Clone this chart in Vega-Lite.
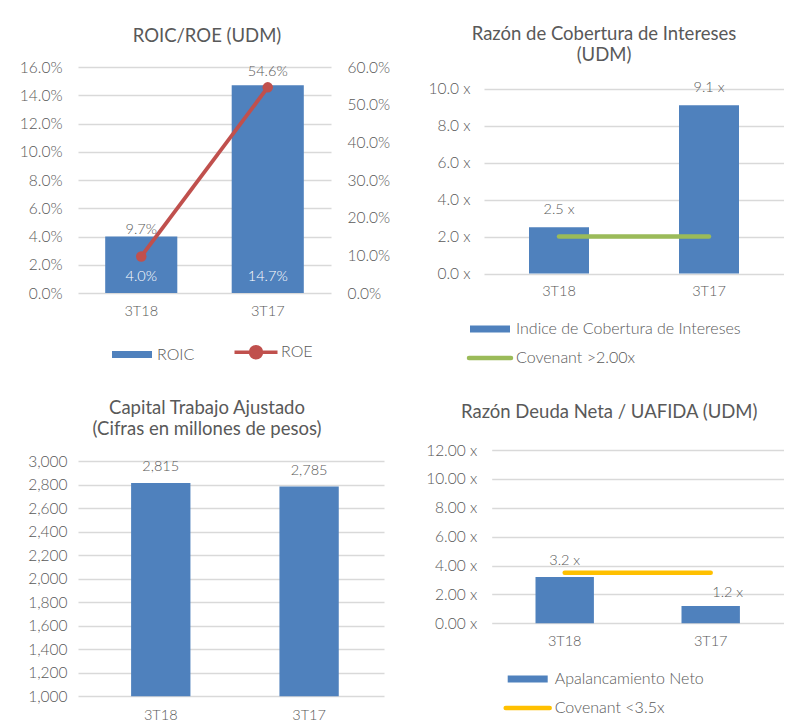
{
  "$schema": "https://vega.github.io/schema/vega-lite/v6.json",
  "background": "white",
  "padding": {"left": 19, "top": 25, "right": 0, "bottom": 0},
  "config": {
    "font": "Lato",
    "view": {"stroke": null},
    "locale": {"number": {"decimal": ".", "thousands": ",", "grouping": [3], "currency": ["", " x"]}},
    "axis": {"labelFont": "Lato", "labelFontSize": 15.5, "labelFontWeight": 300, "labelColor": "#595959", "domain": false, "ticks": false, "gridColor": "#D9D9D9", "gridWidth": 1.5, "tickCount": 30, "labelOverlap": false},
    "axisX": {"grid": false, "labelAngle": 0, "labelPadding": 11, "labelFontSize": 14.5},
    "axisY": {"grid": true},
    "legend": {"labelFont": "Lato", "labelFontSize": 16, "labelFontWeight": 300, "labelColor": "#595959", "padding": 0, "labelLimit": 500},
    "text": {"font": "Lato", "fontSize": 14.5, "fontWeight": 300, "color": "#595959"},
    "title": {"font": "Lato", "fontSize": 18.5, "fontWeight": "normal", "color": "#595959", "lineHeight": 20.5}
  },
  "datasets": {
    "roic": [
      {"periodo": "3T18", "roic": 0.040, "roe": 0.097},
      {"periodo": "3T17", "roic": 0.147, "roe": 0.546}
    ],
    "cobertura": [
      {"periodo": "3T18", "indice": 2.5, "covenant": 2.0},
      {"periodo": "3T17", "indice": 9.1, "covenant": 2.0}
    ],
    "capital": [
      {"periodo": "3T18", "capital": 2815},
      {"periodo": "3T17", "capital": 2785}
    ],
    "deuda": [
      {"periodo": "3T18", "apalancamiento": 3.2, "covenant": 3.5},
      {"periodo": "3T17", "apalancamiento": 1.2, "covenant": 3.5}
    ]
  },
  "bounds": "flush",
  "spacing": 383,
  "resolve": {"scale": {"color": "independent"}, "legend": {"color": "independent"}},
  "vconcat": [
    {
      "bounds": "flush",
      "spacing": 153,
      "resolve": {"scale": {"color": "independent"}, "legend": {"color": "independent"}},
      "hconcat": [
        {
          "title": {"text": "ROIC/ROE (UDM)", "offset": 15, "dx": 2.5},
          "width": 253,
          "height": 226,
          "data": {"name": "roic"},
          "encoding": {
            "x": {"field": "periodo", "type": "nominal", "sort": null, "scale": {"paddingInner": 0.43, "paddingOuter": 0.215}, "axis": {"title": null}}
          },
          "layer": [
            {
              "layer": [
                {
                  "mark": {"type": "bar"},
                  "encoding": {
                    "y": {"field": "roic", "type": "quantitative", "scale": {"domain": [0, 0.16], "nice": false}, "axis": {"title": null, "format": ".1%", "values": [0, 0.02, 0.04, 0.06, 0.08, 0.1, 0.12, 0.14, 0.16], "labelPadding": 16}},
                    "color": {
                      "datum": "ROIC", "type": "nominal",
                      "scale": {"domain": ["ROIC", "ROE"], "range": ["#4F81BD", "#C0504D"]},
                      "legend": {
                        "title": null, "orient": "none", "legendX": 46, "legendY": 277, "direction": "horizontal",
                        "symbolSize": 400, "labelOffset": 17, "columnPadding": 32,
                        "encode": {"symbols": {"update": {
                          "shape": {"signal": "datum.value === 'ROIC' ? 'M-2,-0.35H2V0.35H-2Z' : 'M-2.15,0H2.15M0.55,0A0.55,0.55 0 1 1 -0.55,0A0.55,0.55 0 1 1 0.55,0'"},
                          "fill": {"signal": "datum.value === 'ROIC' ? '#4F81BD' : '#C0504D'"},
                          "stroke": {"signal": "datum.value === 'ROIC' ? '#4F81BD' : '#C0504D'"},
                          "strokeWidth": {"signal": "datum.value === 'ROIC' ? 0 : 3.5"},
                          "opacity": {"value": 1}, "fillOpacity": {"value": 1}, "strokeOpacity": {"value": 1}
                        }}}
                      }
                    }
                  }
                },
                {
                  "mark": {"type": "text", "dy": -16, "color": "white"},
                  "encoding": {
                    "y": {"datum": 0, "type": "quantitative"},
                    "text": {"field": "roic", "type": "quantitative", "format": ".1%"}
                  }
                }
              ]
            },
            {
              "layer": [
                {
                  "mark": {"type": "line", "strokeWidth": 3.8},
                  "encoding": {
                    "y": {"field": "roe", "type": "quantitative", "scale": {"domain": [0, 0.6], "nice": false}, "axis": {"title": null, "orient": "right", "grid": false, "format": ".1%", "values": [0, 0.1, 0.2, 0.3, 0.4, 0.5, 0.6], "labelPadding": 16}},
                    "color": {"datum": "ROE", "type": "nominal"}
                  }
                },
                {
                  "mark": {"type": "point", "filled": true, "size": 110, "opacity": 1},
                  "encoding": {
                    "y": {"field": "roe", "type": "quantitative"},
                    "color": {"datum": "ROE", "type": "nominal"}
                  }
                },
                {
                  "transform": [{"filter": "datum.periodo === '3T18'"}],
                  "mark": {"type": "text", "dy": -26},
                  "encoding": {
                    "y": {"field": "roe", "type": "quantitative"},
                    "text": {"field": "roe", "type": "quantitative", "format": ".1%"}
                  }
                },
                {
                  "transform": [{"filter": "datum.periodo === '3T17'"}],
                  "mark": {"type": "text", "dy": -15},
                  "encoding": {
                    "y": {"field": "roe", "type": "quantitative"},
                    "text": {"field": "roe", "type": "quantitative", "format": ".1%"}
                  }
                }
              ]
            }
          ],
          "resolve": {"scale": {"y": "independent"}}
        },
        {
          "title": {"text": ["Razón de Cobertura de Intereses", "(UDM)"], "offset": 3, "dx": -30},
          "width": 300,
          "height": 206.6,
          "data": {"name": "cobertura"},
          "encoding": {
            "x": {"field": "periodo", "type": "nominal", "sort": null, "scale": {"paddingInner": 0.6, "paddingOuter": 0.3}, "axis": {"title": null}}
          },
          "layer": [
            {
              "mark": {"type": "bar"},
              "encoding": {
                "y": {"field": "indice", "type": "quantitative", "scale": {"domain": [0, 11.17], "nice": false}, "axis": {"title": null, "format": "$.1f", "values": [0, 2, 4, 6, 8, 10], "labelPadding": 14}},
                "color": {
                  "datum": "Indice de Cobertura de Intereses", "type": "nominal",
                  "scale": {"domain": ["Indice de Cobertura de Intereses", "Covenant >2.00x"], "range": ["#4F81BD", "#9BBB59"]},
                  "legend": {
                    "title": null, "orient": "none", "legendX": -2, "legendY": 254, "direction": "vertical",
                    "symbolSize": 400, "labelOffset": 18, "rowPadding": 12,
                    "encode": {"symbols": {"update": {
                      "shape": {"signal": "datum.index === 0 ? 'M-2,-0.35H2V0.35H-2Z' : 'M-2.1,0H2.1'"},
                      "fill": {"signal": "datum.index === 0 ? '#4F81BD' : 'transparent'"},
                      "stroke": {"signal": "datum.index === 0 ? '#4F81BD' : '#9BBB59'"},
                      "strokeWidth": {"signal": "datum.index === 0 ? 0 : 4.5"},
                      "strokeCap": {"value": "round"},
                      "opacity": {"value": 1}, "fillOpacity": {"value": 1}, "strokeOpacity": {"value": 1}
                    }}}
                  }
                }
              }
            },
            {
              "mark": {"type": "text", "dy": -17},
              "encoding": {
                "y": {"field": "indice", "type": "quantitative"},
                "text": {"field": "indice", "type": "quantitative", "format": "$.1f"}
              }
            },
            {
              "mark": {"type": "line", "strokeWidth": 4.5, "strokeCap": "round"},
              "encoding": {
                "y": {"field": "covenant", "type": "quantitative"},
                "color": {"datum": "Covenant >2.00x", "type": "nominal"}
              }
            }
          ]
        }
      ]
    },
    {
      "bounds": "flush",
      "spacing": 107.7,
      "resolve": {"scale": {"color": "independent"}, "legend": {"color": "independent"}},
      "hconcat": [
        {
          "title": {"text": ["Capital Trabajo Ajustado", "(Cifras en millones de pesos)"], "offset": 12, "dx": -24},
          "width": 306,
          "height": 246.3,
          "data": {"name": "capital"},
          "encoding": {
            "x": {"field": "periodo", "type": "nominal", "sort": null, "scale": {"paddingInner": 0.6, "paddingOuter": 0.3315, "align": 0.54}, "axis": {"title": null, "labelPadding": 12}}
          },
          "layer": [
            {
              "mark": {"type": "bar", "color": "#4F81BD"},
              "encoding": {
                "y": {"field": "capital", "type": "quantitative", "scale": {"domain": [1000, 3096], "nice": false, "zero": false}, "axis": {"title": null, "format": ",.0f", "values": [1000, 1200, 1400, 1600, 1800, 2000, 2200, 2400, 2600, 2800, 3000], "labelPadding": 11}},
                "y2": {"datum": 1000}
              }
            },
            {
              "mark": {"type": "text", "dy": -16},
              "encoding": {
                "y": {"field": "capital", "type": "quantitative"},
                "text": {"field": "capital", "type": "quantitative", "format": ",.0f"}
              }
            }
          ]
        },
        {
          "title": {"text": "Razón Deuda Neta / UAFIDA (UDM)", "offset": 22, "dx": -28.5},
          "width": 292,
          "height": 173.3,
          "data": {"name": "deuda"},
          "encoding": {
            "x": {"field": "periodo", "type": "nominal", "sort": null, "scale": {"paddingInner": 0.6, "paddingOuter": 0.3}, "axis": {"title": null}}
          },
          "layer": [
            {
              "mark": {"type": "bar"},
              "encoding": {
                "y": {"field": "apalancamiento", "type": "quantitative", "scale": {"domain": [0, 12], "nice": false}, "axis": {"title": null, "format": "$.2f", "values": [0, 2, 4, 6, 8, 10, 12], "labelPadding": 15}},
                "color": {
                  "datum": "Apalancamiento Neto", "type": "nominal",
                  "scale": {"domain": ["Apalancamiento Neto", "Covenant <3.5x"], "range": ["#4F81BD", "#FFC000"]},
                  "legend": {
                    "title": null, "orient": "none", "legendX": 28, "legendY": 221, "direction": "vertical",
                    "symbolSize": 400, "labelOffset": 19, "rowPadding": 12,
                    "encode": {"symbols": {"update": {
                      "shape": {"signal": "datum.index === 0 ? 'M-2,-0.35H2V0.35H-2Z' : 'M-2.2,0H2.2'"},
                      "fill": {"signal": "datum.index === 0 ? '#4F81BD' : 'transparent'"},
                      "stroke": {"signal": "datum.index === 0 ? '#4F81BD' : '#FFC000'"},
                      "strokeWidth": {"signal": "datum.index === 0 ? 0 : 4.5"},
                      "strokeCap": {"value": "round"},
                      "opacity": {"value": 1}, "fillOpacity": {"value": 1}, "strokeOpacity": {"value": 1}
                    }}}
                  }
                }
              }
            },
            {
              "transform": [{"filter": "datum.periodo === '3T18'"}],
              "mark": {"type": "text", "dy": -16},
              "encoding": {
                "y": {"field": "apalancamiento", "type": "quantitative"},
                "text": {"field": "apalancamiento", "type": "quantitative", "format": "$.1f"}
              }
            },
            {
              "transform": [{"filter": "datum.periodo === '3T17'"}],
              "mark": {"type": "text", "dy": -13, "dx": 17},
              "encoding": {
                "y": {"field": "apalancamiento", "type": "quantitative"},
                "text": {"field": "apalancamiento", "type": "quantitative", "format": "$.1f"}
              }
            },
            {
              "mark": {"type": "line", "strokeWidth": 4.5, "strokeCap": "round"},
              "encoding": {
                "y": {"field": "covenant", "type": "quantitative"},
                "color": {"datum": "Covenant <3.5x", "type": "nominal"}
              }
            }
          ]
        }
      ]
    }
  ]
}
